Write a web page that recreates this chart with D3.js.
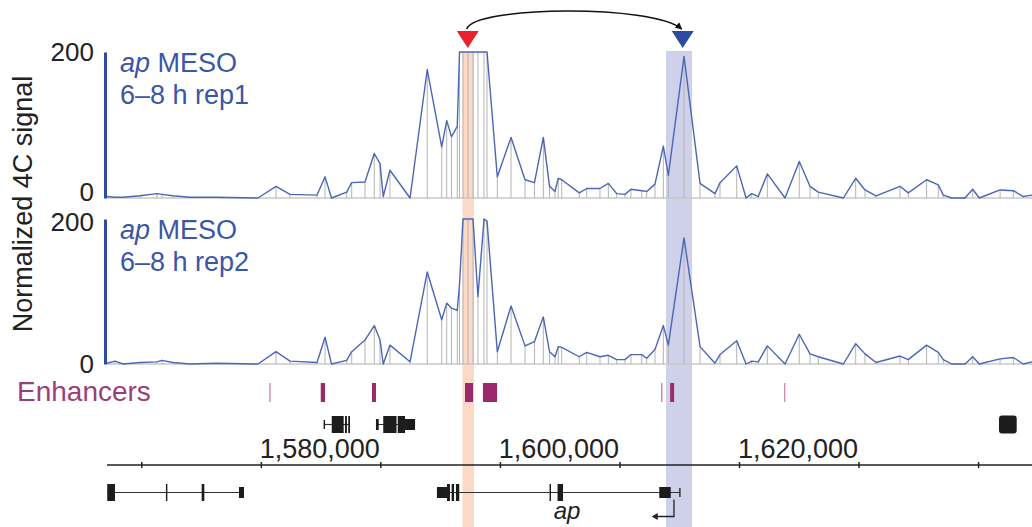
<!DOCTYPE html>
<html><head><meta charset="utf-8">
<script src="https://cdn.jsdelivr.net/npm/d3@7"></script>
<style>
body{margin:0;background:#fff}
svg{display:block}
text{font-family:"Liberation Sans",Arial,Helvetica,sans-serif}
</style>
</head><body>
<svg id="chart" width="1032" height="527"></svg>
<script>
// ---------- data ----------
const positions = [1557130,1557800,1558470,1559890,1561310,1561730,1562650,1564070,1566330,1569760,
 1571270,1572440,1574700,1575370,1575910,1577180,1577600,1578710,1579490,1579970,
 1580240,1580800,1582480,1583920,1585130,1585550,1585950,1586430,1586620,1586910,
 1587330,1587750,1588160,1588670,1588920,1589780,1590930,1592100,1592890,1593630,
 1594150,1594610,1594880,1595170,1596640,1597260,1598370,1599070,1599770,1600460,
 1600960,1601860,1602280,1602970,1603670,1604090,1605400,1606740,1607990,1608410,
 1609810,1610590,1611060,1611610,1612370,1613850,1615040,1615940,1616630,1618730,
 1619760,1620540,1621460,1623470,1624160,1625690,1626670,1627090,1627790,1628910,
 1629550,1630100,1631840,1632950,1633780,1634510];
const rep1 = [2,1,1,3,6,5,3,1,1,0,
 16,5,4,29,0,8,21,22,61,47,
 2,38,0,176,70,106,84,98,230,240,
 260,250,230,240,220,29,83,25,21,83,
 16,9,27,25,7,13,13,20,6,5,
 12,10,9,19,71,31,194,20,6,21,
 44,0,6,2,33,0,50,16,8,0,
 27,11,3,16,7,25,18,4,0,0,
 12,0,11,10,2,4];
const rep2 = [1,4,0,2,3,5,2,0,1,0,
 17,4,2,37,0,5,17,33,53,33,
 0,26,3,127,61,84,77,74,110,220,
 240,230,93,200,197,17,80,25,31,65,
 17,10,24,23,10,16,10,12,6,6,
 13,13,8,20,53,26,174,24,1,13,
 32,0,4,3,25,0,41,14,10,0,
 28,14,2,11,6,26,16,6,0,0,
 10,0,7,9,0,3];
const trackNames = ["6\u20138 h rep1", "6\u20138 h rep2"];
const trackGene = "ap";
const trackTissue = "MESO";
const yTicks = [0, 200];
const yMax = 200;
const yTitle = "Normalized 4C signal";
const regionStart = 1557130, regionEnd = 1634510;
const axisTicks = [1560000,1570000,1580000,1590000,1600000,1610000,1620000,1630000];
const axisLabels = [1580000,1600000,1620000];
const enhancerLabel = "Enhancers";
const enhancerStart = [1570700,1575010,1579300,1587080,1588580,1603470,1604240,1613770];
const enhancerEnd   = [1570820,1575370,1579630,1587750,1589760,1603600,1604570,1613880];
const enhancerWeak  = [true,false,false,false,false,true,false,true];
const viewpoint = 1587310, target = 1605290;
const viewpointBand = [1586870, 1587830];
const targetBand = [1603890, 1606070];
// genes: row 0 = above axis, row 1 = below axis
const geneRow   = [0, 0, 0, 1, 1];
const geneStart = [1575280, 1579630, 1631750, 1557150, 1584730];
const geneEnd   = [1577460, 1582900, 1633230, 1568590, 1605060];
const geneName  = ["", "", "", "", "ap"];
const exons = [ // [gene index, start, end, kind]
 [0,1575250,1575370,"tick"],[0,1575930,1576930,"cds"],[0,1577040,1577200,"cds"],[0,1577310,1577460,"cds"],
 [1,1579630,1579860,"utr"],[1,1580240,1581350,"cds"],[1,1581450,1582060,"cds"],[1,1582060,1582900,"utr"],
 [2,1631750,1633230,"box"],
 [3,1557150,1557800,"cds"],[3,1562060,1562180,"cds"],[3,1565050,1565270,"cds"],[3,1568170,1568590,"utr"],
 [4,1584730,1585570,"utr"],[4,1585570,1585820,"cds"],[4,1585960,1586160,"cds"],[4,1586320,1586600,"cds"],
 [4,1594150,1594270,"cds"],[4,1594820,1595280,"cds"],[4,1603330,1604290,"utr"],[4,1605000,1605080,"tick"]
];
const tss = 1604560, tssArrowTo = 1602700;

// ---------- drawing ----------
const svg = d3.select("#chart");
const W = 1032, H = 527;
const x = d3.scaleLinear().domain([regionStart, regionEnd]).range([107, 1032]);
const tracks = [
  {values: rep1, y: d3.scaleLinear().domain([0, yMax]).range([198, 52]).clamp(true), name: trackNames[0], shift: {0: -5.5}},
  {values: rep2, y: d3.scaleLinear().domain([0, yMax]).range([364, 219]).clamp(true), name: trackNames[1], shift: {200: 3}}
];

// highlight bands
svg.append("rect").attr("x", x(viewpointBand[0])).attr("y", 52)
  .attr("width", x(viewpointBand[1]) - x(viewpointBand[0])).attr("height", H - 52)
  .attr("fill", "#fcd8c6");
svg.append("rect").attr("x", x(targetBand[0])).attr("y", 51)
  .attr("width", x(targetBand[1]) - x(targetBand[0])).attr("height", H - 51)
  .attr("fill", "#cfd0ea");

const font = 27;
tracks.forEach(t => {
  const pts = positions.map((p, i) => ({p, v: t.values[i]}));
  const g = svg.append("g");
  // baseline
  g.append("line").attr("x1", 107).attr("x2", W).attr("y1", t.y(0)).attr("y2", t.y(0))
    .attr("stroke", "#c8c8c8").attr("stroke-width", 1.5);
  // stems
  g.selectAll("line.stem").data(pts).join("line").attr("class", "stem")
    .attr("x1", d => x(d.p)).attr("x2", d => x(d.p))
    .attr("y1", t.y(0)).attr("y2", d => t.y(d.v))
    .attr("stroke", "#b4b4b4").attr("stroke-width", 1);
  // line
  g.append("path").datum(pts)
    .attr("d", d3.line().x(d => x(d.p)).y(d => t.y(d.v)))
    .attr("fill", "none").attr("stroke", "#4c66b6").attr("stroke-width", 1.4)
    .attr("stroke-linejoin", "round");
  // y axis
  const ax = g.append("g").attr("transform", "translate(105,0)")
    .call(d3.axisLeft(t.y).tickValues(yTicks).tickSize(0).tickSizeOuter(0).tickPadding(11));
  ax.select(".domain").attr("stroke", "#2f4c9e").attr("stroke-width", 3);
  ax.selectAll("text").attr("font-size", 26).attr("fill", "#222")
    .attr("font-family", '"Liberation Sans",Arial,sans-serif')
    .attr("y", d => t.shift[d] || 0);
  // label
  const top = t.y(yMax);
  const l1 = g.append("text").attr("x", 120).attr("y", top + 20).attr("font-size", font).attr("fill", "#3a56a8");
  l1.append("tspan").attr("font-style", "italic").text(trackGene);
  l1.append("tspan").text(" " + trackTissue);
  g.append("text").attr("x", 120).attr("y", top + 52).attr("font-size", font).attr("fill", "#3a56a8").text(t.name);
});

// y title
svg.append("text").attr("transform", "translate(32,204) rotate(-90)")
  .attr("text-anchor", "middle").attr("font-size", font).attr("fill", "#222").text(yTitle);

// viewpoint / target triangles
const tri = (cx, col) => svg.append("path")
  .attr("d", `M${cx - 11},31 L${cx + 11},31 L${cx},48 Z`).attr("fill", col);
tri(x(viewpoint), "#e8232a");
tri(x(target), "#2c4a9f");

// arc arrow
svg.append("defs").append("marker").attr("id", "ah").attr("viewBox", "0 0 10 10")
  .attr("refX", 9).attr("refY", 5).attr("markerWidth", 7).attr("markerHeight", 7)
  .attr("orient", "auto").attr("markerUnits", "userSpaceOnUse")
  .append("path").attr("d", "M0,0 L10,5 L0,10 Z").attr("fill", "#111");
const xv = x(viewpoint), xt = x(target);
svg.append("path")
  .attr("d", `M${xv - 1},29 C${xv + 6},6 ${xt - 30},4 ${xt - 1},29`)
  .attr("fill", "none").attr("stroke", "#111").attr("stroke-width", 1.6)
  .attr("marker-end", "url(#ah)");

// enhancers
svg.append("text").attr("x", 17).attr("y", 401).attr("font-size", 28).attr("fill", "#9c3d7b").text(enhancerLabel);
svg.selectAll("rect.enh").data(enhancerStart.map((s, i) => ({s, e: enhancerEnd[i], weak: enhancerWeak[i]})))
  .join("rect").attr("class", "enh")
  .attr("x", d => x(d.s)).attr("width", d => Math.max(1.3, x(d.e) - x(d.s)))
  .attr("y", 383).attr("height", 19)
  .attr("fill", d => d.weak ? "#d487ad" : "#9b2a6c");

// genomic axis
const gAxis = svg.append("g").attr("transform", "translate(0,465)")
  .call(d3.axisTop(x).tickValues(axisTicks).tickSize(3).tickSizeOuter(0).tickPadding(4)
    .tickFormat(d => axisLabels.includes(d) ? d3.format(",")(d) : ""));
gAxis.select(".domain").attr("stroke", "#222").attr("stroke-width", 1.5);
gAxis.selectAll(".tick line").attr("stroke", "#222").attr("stroke-width", 1.5).attr("y2", 3).attr("y1", -3);
gAxis.selectAll("text").attr("font-size", font).attr("fill", "#222").attr("text-anchor", "end")
  .attr("x", -1).attr("font-family", '"Liberation Sans",Arial,sans-serif');
gAxis.select(".domain").attr("d", `M107,0H${W}`);

// genes
const rowY = [424.5, 492.5];
const gg = svg.append("g");
geneStart.forEach((s, i) => {
  if (i === 2) return; // single-block gene, no intron line
  gg.append("line").attr("x1", x(s)).attr("x2", x(geneEnd[i]))
    .attr("y1", rowY[geneRow[i]]).attr("y2", rowY[geneRow[i]])
    .attr("stroke", "#333").attr("stroke-width", 1.2);
});
const hts = {cds: 17, utr: 11, tick: 9, box: 18};
exons.forEach(([gi, s, e, k]) => {
  const h = hts[k];
  gg.append("rect").attr("x", x(s)).attr("width", Math.max(1.3, x(e) - x(s)))
    .attr("y", rowY[geneRow[gi]] - h / 2).attr("height", h)
    .attr("rx", k === "box" ? 3 : 0)
    .attr("fill", "#1c1c1c");
});
// TSS arrow
const tx = x(tss), ty = rowY[1];
svg.append("path").attr("d", `M${tx},${ty + 7} V${ty + 24} H${x(tssArrowTo) + 4}`)
  .attr("fill", "none").attr("stroke", "#222").attr("stroke-width", 1.3);
svg.append("path").attr("d", `M${x(tssArrowTo)},${ty + 24} l6,-3.5 v7 Z`).attr("fill", "#222");
// gene name
svg.append("text").attr("x", 567).attr("y", 519).attr("text-anchor", "middle")
  .attr("font-size", 24).attr("font-style", "italic").attr("fill", "#222").text(geneName[4]);
</script>
</body></html>
